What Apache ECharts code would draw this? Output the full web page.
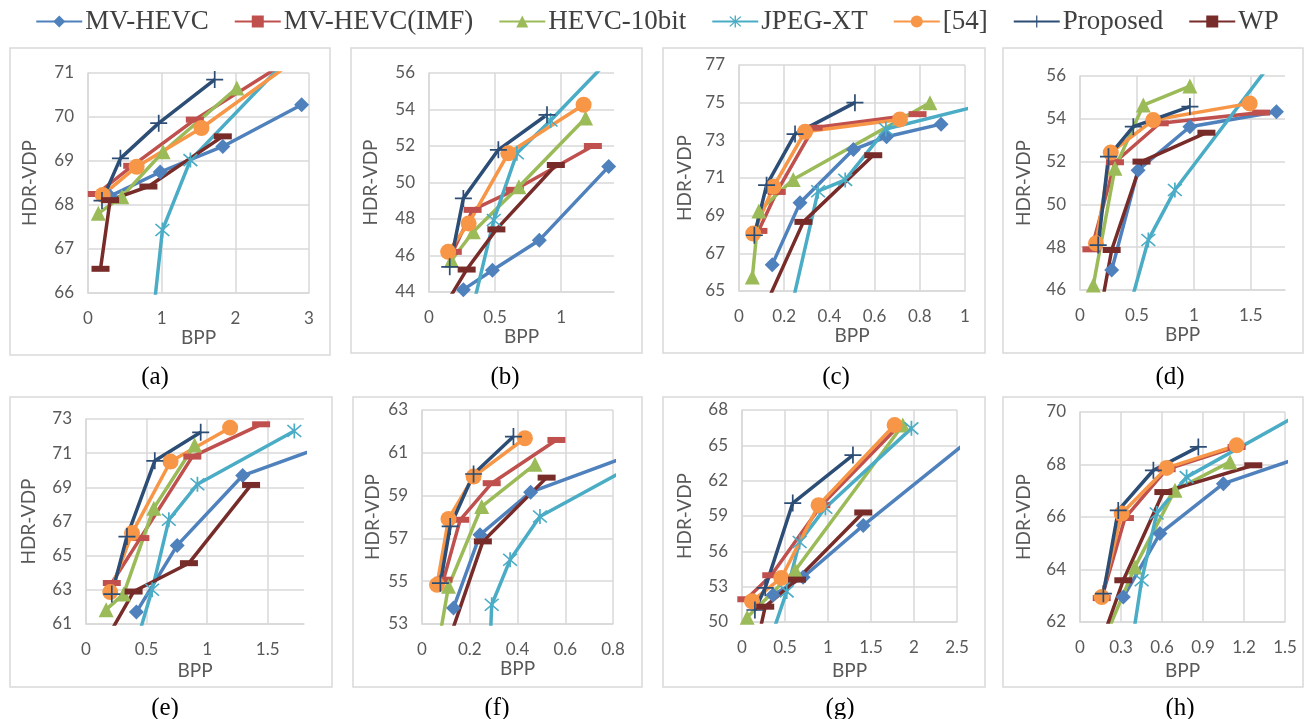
<!DOCTYPE html>
<html><head><meta charset="utf-8">
<script src="https://cdn.jsdelivr.net/npm/echarts@6/dist/echarts.min.js"></script>
<style>html,body{margin:0;padding:0;background:#fff}#c{width:1314px;height:719px}</style>
</head><body><div id="c"></div>
<script>
// ---------- DATA (BPP, HDR-VDP) per panel (a)..(h) ----------
const seriesNames = ['MV-HEVC', 'MV-HEVC(IMF)', 'HEVC-10bit', 'JPEG-XT', '[54]', 'Proposed', 'WP'];
const panelLabels = ['(a)', '(b)', '(c)', '(d)', '(e)', '(f)', '(g)', '(h)'];

const MV_HEVC = [
  [[0.3,68.2],[0.98,68.75],[1.83,69.33],[2.9,70.28]],
  [[0.26,44.13],[0.48,45.19],[0.835,46.84],[1.36,50.87]],
  [[0.147,66.4],[0.27,69.68],[0.506,72.51],[0.653,73.19],[0.894,73.86]],
  [[0.278,46.93],[0.51,51.6],[0.965,53.63],[1.725,54.33]],
  [[0.416,61.7],[0.753,65.6],[1.294,69.69],[2.0,71.5]],
  [[0.132,53.75],[0.243,57.17],[0.455,59.16],[0.9,61.0]],
  [[0.36,52.3],[0.71,53.8],[1.41,58.2],[2.6,65.2]],
  [[0.317,62.95],[0.585,65.37],[1.049,67.27],[1.6,68.25]]
];
const MV_HEVC_IMF = [
  [[0.12,68.25],[0.6,68.89],[1.45,69.94],[2.6,71.15]],
  [[0.18,46.2],[0.33,48.5],[0.65,49.6],[1.24,52.0]],
  [[0.086,68.19],[0.167,70.26],[0.33,73.67],[0.79,74.39]],
  [[0.1,47.9],[0.307,51.97],[0.70,53.79],[1.59,54.29]],
  [[0.213,63.4],[0.449,66.03],[0.878,70.8],[1.446,72.69]],
  [[0.09,55.07],[0.16,57.87],[0.292,59.58],[0.563,61.6]],
  [[0.05,51.93],[0.34,53.97],[0.922,59.92],[1.814,66.58]],
  [[0.159,62.91],[0.329,65.96],[0.634,67.82],[1.146,68.67]]
];
const HEVC_10bit = [
  [[0.14,67.81],[0.46,68.19],[1.02,69.21],[2.02,70.66]],
  [[0.17,45.74],[0.335,47.3],[0.68,49.77],[1.185,53.53]],
  [[0.059,65.74],[0.088,69.25],[0.24,70.92],[0.845,75.0]],
  [[0.117,46.23],[0.307,51.69],[0.556,54.64],[0.965,55.53]],
  [[0.166,61.84],[0.31,62.75],[0.56,67.78],[0.897,71.48]],
  [[0.06,51.5],[0.111,54.76],[0.25,58.49],[0.473,60.46]],
  [[0.06,50.4],[0.62,54.4],[1.87,66.72]],
  [[0.15,61.0],[0.402,64.1],[0.695,67.02],[1.098,68.1]]
];
const JPEG_XT = [
  [[0.84,64.8],[1.01,67.43],[1.39,69.02],[2.7,71.3]],
  [[0.31,42.5],[0.49,47.94],[0.665,51.6],[0.92,53.4],[1.4,57.0]],
  [[0.22,63.5],[0.35,70.3],[0.47,70.9],[0.65,73.6],[1.05,74.8]],
  [[0.4,44.5],[0.6,48.34],[0.833,50.67],[1.72,56.9]],
  [[0.40,59.5],[0.546,63.0],[0.684,67.1],[0.92,69.18],[1.72,72.3]],
  [[0.285,52.0],[0.292,53.9],[0.369,56.0],[0.494,58.02],[0.9,60.5]],
  [[0.33,48.5],[0.52,52.6],[0.67,56.8],[0.97,59.7],[1.97,66.44]],
  [[0.36,60.5],[0.451,63.59],[0.561,66.13],[0.78,67.52],[1.6,69.9]]
];
const REF_54 = [
  [[0.2,68.23],[0.66,68.87],[1.54,69.75],[2.9,71.4]],
  [[0.145,46.2],[0.3,47.76],[0.6,51.6],[1.17,54.26]],
  [[0.063,68.05],[0.152,70.53],[0.292,73.45],[0.712,74.11]],
  [[0.14,48.18],[0.27,52.42],[0.643,53.94],[1.49,54.72]],
  [[0.2,62.87],[0.38,66.32],[0.698,70.51],[1.19,72.49]],
  [[0.063,54.83],[0.111,57.91],[0.216,59.89],[0.431,61.68]],
  [[0.116,51.76],[0.457,53.74],[0.891,59.92],[1.775,66.72]],
  [[0.159,62.95],[0.305,66.13],[0.634,67.87],[1.146,68.73]]
];
const PROPOSED = [
  [[0.19,68.1],[0.44,69.06],[0.96,69.86],[1.72,70.85]],
  [[0.157,45.38],[0.26,49.13],[0.525,51.79],[0.893,53.71]],
  [[0.068,67.96],[0.122,70.62],[0.248,73.33],[0.513,75.0]],
  [[0.16,48.1],[0.25,52.23],[0.468,53.63],[0.965,54.57]],
  [[0.213,62.75],[0.338,66.12],[0.568,70.55],[0.947,72.22]],
  [[0.077,54.91],[0.118,57.56],[0.216,60.01],[0.383,61.76]],
  [[0.15,51.02],[0.27,52.9],[0.59,60.1],[1.29,64.17]],
  [[0.171,63.08],[0.28,66.25],[0.537,67.78],[0.866,68.67]]
];
const WP = [
  [[0.17,66.55],[0.3,68.11],[0.82,68.42],[1.83,69.56]],
  [[0.1,43.0],[0.285,45.23],[0.51,47.43],[0.96,50.96]],
  [[0.12,64.3],[0.285,68.67],[0.594,72.21]],
  [[0.18,45.0],[0.278,47.87],[0.54,52.0],[1.11,53.35]],
  [[0.12,59.5],[0.393,62.9],[0.85,64.56],[1.363,69.14]],
  [[0.09,51.5],[0.255,56.86],[0.522,59.84]],
  [[0.2,49.0],[0.27,51.3],[0.64,53.6],[1.41,59.3]],
  [[0.14,61.0],[0.317,63.59],[0.61,66.95],[1.268,67.97]]
];

// tick labels
const xTicks = [
  [0,1,2,3], [0,0.5,1], [0,0.2,0.4,0.6,0.8,1], [0,0.5,1,1.5],
  [0,0.5,1,1.5], [0,0.2,0.4,0.6,0.8], [0,0.5,1,1.5,2,2.5], [0,0.3,0.6,0.9,1.2,1.5]
];
const xMax = [3, 1.4, 1, 1.8, 1.8, 0.8, 2.5, 1.5];
const yTicks = [
  [66,67,68,69,70,71], [44,46,48,50,52,54,56], [65,67,69,71,73,75,77], [46,48,50,52,54,56],
  [61,63,65,67,69,71,73], [53,55,57,59,61,63], [50,53,56,59,62,65,68], [62,64,66,68,70]
];

// ---------- LAYOUT / STYLE ----------
const allData = [MV_HEVC, MV_HEVC_IMF, HEVC_10bit, JPEG_XT, REF_54, PROPOSED, WP];
const ASTER = 'path://M9,0L11,0L11,20L9,20Z M1.3,2.7L2.7,1.3L18.7,17.3L17.3,18.7Z M17.3,1.3L18.7,2.7L2.7,18.7L1.3,17.3Z';
const PLUS = 'path://M9,0L11,0L11,20L9,20Z M0,9L20,9L20,11L0,11Z';
const styles = [
  {color:'#4F81BD', symbol:'diamond', size:15},
  {color:'#C0504D', symbol:'rect', size:[18,6]},
  {color:'#9BBB59', symbol:'triangle', size:15},
  {color:'#4BACC6', symbol:ASTER, size:15},
  {color:'#F79646', symbol:'circle', size:16},
  {color:'#2C4D75', symbol:PLUS, size:17},
  {color:'#772C2A', symbol:'rect', size:[18,6]}
];
const boxes = [[88,73,309,293],[429,73,614,292],[739,65,965,291],[1080,76,1285,290],
               [86,419,304,624],[422,410,613,624],[742,410,957,622],[1080,412,1285,622]];
const yNameGap = [49,49,45,47,48,40,48,47];
const xNameGap = [30,31,29,35,37,35,39,39];
const frames = [[10,48,320,307],[351,48,291,305],[663,48,322,305],[1003,48,300,305],
                [10,397,322,290],[353,397,289,290],[663,397,322,290],[1003,397,300,290]];
const captionPos = [[155,377],[505,377],[836,377],[1170,377],[165,708],[497,708],[840,708],[1180,708]];

const gridCol = '#D9D9D9';
const txtCol = '#595959';
const grids = [], xAxes = [], yAxes = [], series = [], graphics = [];
for (let i = 0; i < 8; i++) {
  const b = boxes[i];
  grids.push({left:b[0], top:b[1], width:b[2]-b[0], height:b[3]-b[1], outerBoundsMode:'none'});
  xAxes.push({
    type:'value', gridIndex:i, min:xTicks[i][0], max:xMax[i],
    axisLine:{show:true, onZero:false, lineStyle:{color:gridCol, width:1.5}},
    axisTick:{show:false, customValues:xTicks[i]},
    axisLabel:{customValues:xTicks[i], color:txtCol, fontSize:17, fontFamily:'Lato', margin:17},
    splitLine:{show:true, lineStyle:{color:gridCol, width:1.5}},
    name:'BPP', nameLocation:'middle', nameGap:xNameGap[i],
    nameTextStyle:{color:txtCol, fontSize:19, fontFamily:'Lato'}
  });
  const yt = yTicks[i];
  yAxes.push({
    type:'value', gridIndex:i, min:yt[0], max:yt[yt.length-1],
    axisLine:{show:true, onZero:false, lineStyle:{color:gridCol, width:1.5}},
    axisTick:{show:false, customValues:yt},
    axisLabel:{customValues:yt, color:txtCol, fontSize:17, fontFamily:'Lato', margin:14},
    splitLine:{show:true, lineStyle:{color:gridCol, width:1.5}},
    name:'HDR-VDP', nameLocation:'middle', nameGap:yNameGap[i],
    nameTextStyle:{color:txtCol, fontSize:19, fontFamily:'Lato'}
  });
  for (let s = 0; s < 7; s++) {
    const st = styles[s];
    series.push({
      type:'line', name:seriesNames[s], xAxisIndex:i, yAxisIndex:i,
      data:allData[s][i], symbol:st.symbol, symbolSize:st.size,
      showAllSymbol:true, clip:true, animation:false,
      lineStyle:{color:st.color, width:3.5},
      itemStyle:{color:st.color, borderWidth:0}
    });
  }
  const f = frames[i];
  graphics.push({type:'rect', shape:{x:f[0], y:f[1], width:f[2], height:f[3]},
    style:{fill:'none', stroke:gridCol, lineWidth:1.5}, silent:true});
  graphics.push({type:'text', x:captionPos[i][0], y:captionPos[i][1],
    style:{text:panelLabels[i], fill:'#000', font:'25px "Liberation Serif"', align:'center', verticalAlign:'middle'}});
}

const chart = echarts.init(document.getElementById('c'), null, {renderer:'canvas'});
chart.setOption({
  backgroundColor:'#fff',
  animation:false,
  legend:{
    data:seriesNames, left:'center', top:3, itemWidth:46, itemHeight:15, itemGap:25,
    textStyle:{fontFamily:'Liberation Serif', fontSize:27, color:'#404040', padding:[0,0,0,-2]}
  },
  grid:grids, xAxis:xAxes, yAxis:yAxes, series:series, graphic:graphics
});
</script></body></html>
